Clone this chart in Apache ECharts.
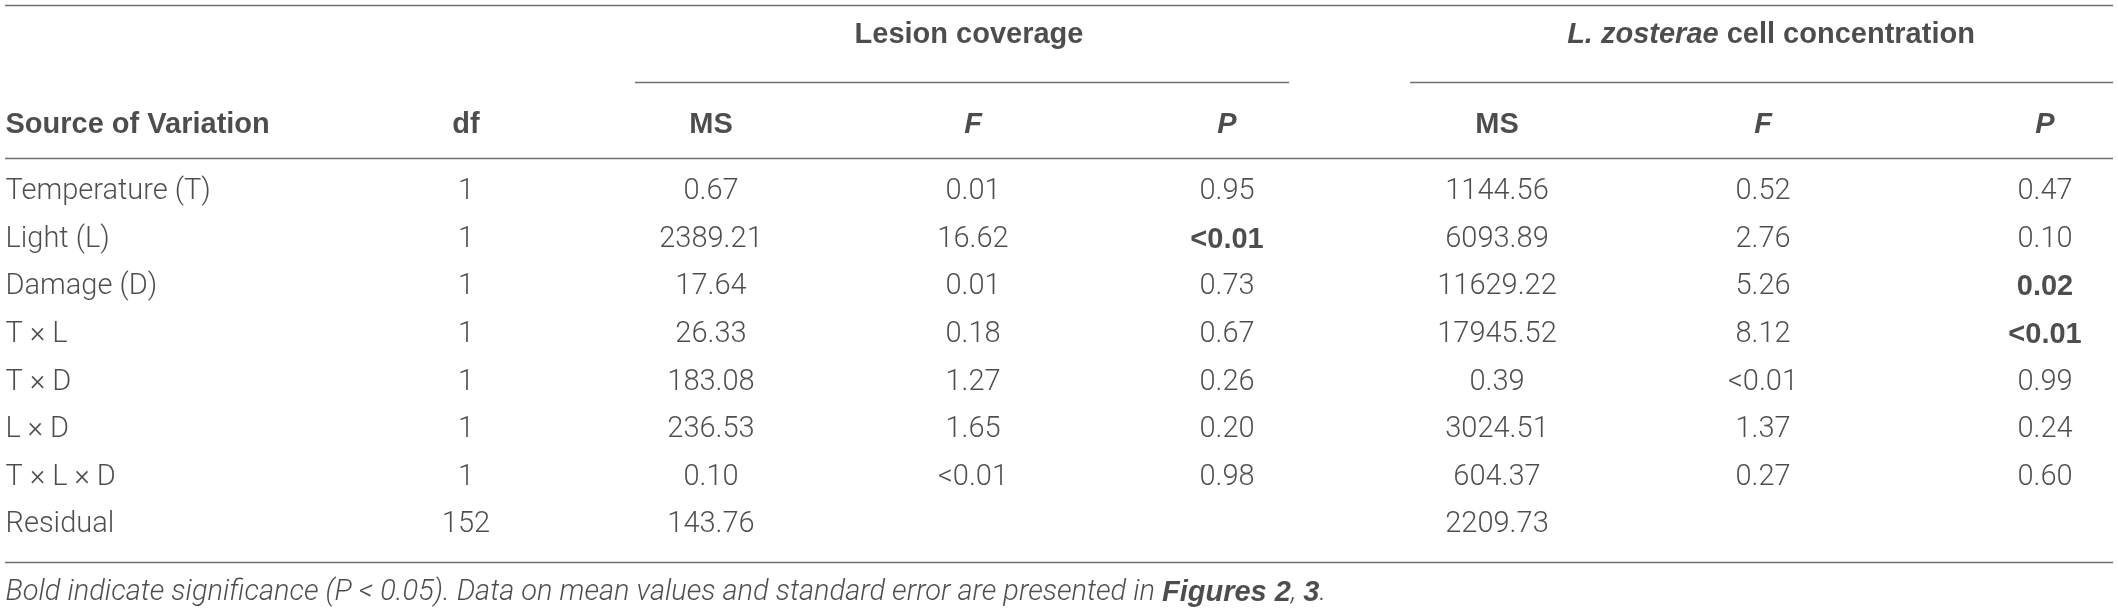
<!DOCTYPE html>
<html>
<head>
<meta charset="utf-8">
<script src="https://cdn.jsdelivr.net/npm/echarts@6/dist/echarts.min.js"></script>
<style>
    html, body { margin: 0; padding: 0; background: #fff; }
    #table_chart { width: 2118px; height: 609px; }
</style>
</head>
<body>
<div id="table_chart"></div>
<script>
// ANOVA 表格数据
var sources = ['Temperature (T)', 'Light (L)', 'Damage (D)', 'T \u00d7 L', 'T \u00d7 D', 'L \u00d7 D', 'T \u00d7 L \u00d7 D', 'Residual'];
var dfValues = ['1', '1', '1', '1', '1', '1', '1', '152'];
var lesionMS = ['0.67', '2389.21', '17.64', '26.33', '183.08', '236.53', '0.10', '143.76'];
var lesionF = ['0.01', '16.62', '0.01', '0.18', '1.27', '1.65', '<0.01', ''];
var lesionP = ['0.95', '<0.01', '0.73', '0.67', '0.26', '0.20', '0.98', ''];
var cellMS = ['1144.56', '6093.89', '11629.22', '17945.52', '0.39', '3024.51', '604.37', '2209.73'];
var cellF = ['0.52', '2.76', '5.26', '8.12', '<0.01', '1.37', '0.27', ''];
var cellP = ['0.47', '0.10', '0.02', '<0.01', '0.99', '0.24', '0.60', ''];
// 显著性 (加粗) : [行, 列]
var boldCells = [[1, 4], [2, 7], [3, 7]];
var headers = ['Source of Variation', 'df', 'MS', 'F', 'P', 'MS', 'F', 'P'];
var footnote = '{i|Bold indicate significance (P < 0.05). Data on mean values and standard error are presented in }{bi|Figures 2}{i|, }{bi|3}{i|.}';

// 版面 (坐标轴单位 = 像素)
var colX = [5, 466, 711, 973, 1227, 1497, 1763, 2045];
var firstRowY = 192, rowStep = 47.6, headerY = 125, groupY = 35, footY = 593;
var tableLeft = 5, tableRight = 2113;
var textColor = '#231f20';
var bodyFont = 'Roboto';
var boldFont = 'Liberation Sans';
var fontSize = 29;

var columns = [sources, dfValues, lesionMS, lesionF, lesionP, cellMS, cellF, cellP];

function isBold(r, c) {
    for (var k = 0; k < boldCells.length; k++) {
        if (boldCells[k][0] == r && boldCells[k][1] == c) return true;
    }
    return false;
}

// 表体
var cellData = [];
for (var c = 0; c < columns.length; c++) {
    for (var r = 0; r < columns[c].length; r++) {
        if (columns[c][r] === '') continue;
        var bold = isBold(r, c);
        cellData.push({
            value: [colX[c], firstRowY + r * rowStep],
            txt: columns[c][r],
            label: {
                position: c == 0 ? 'right' : 'inside',
                fontFamily: bold ? boldFont : bodyFont,
                fontWeight: bold ? 'bold' : 300
            }
        });
    }
}

// 表头
var headData = [];
for (var c = 0; c < headers.length; c++) {
    var italic = headers[c] == 'F' || headers[c] == 'P';
    headData.push({
        value: [colX[c], headerY],
        txt: headers[c],
        label: {
            position: c == 0 ? 'right' : 'inside',
            fontStyle: italic ? 'italic' : 'normal'
        }
    });
}
headData.push({ value: [(colX[2] + colX[4]) / 2, groupY], txt: 'Lesion coverage', label: { position: 'inside' } });
headData.push({ value: [(colX[5] + colX[7]) / 2, groupY], txt: '{bi|L. zosterae} cell concentration', label: { position: 'inside' } });

// 横线
function rule(x1, x2, y) {
    return [{ coord: [x1, y] }, { coord: [x2, y] }];
}
var rules = [
    rule(tableLeft, tableRight, 5),
    rule(635, 1289, 82.5),
    rule(1410, tableRight, 82.5),
    rule(tableLeft, tableRight, 158),
    rule(tableLeft, tableRight, 562)
];

var chart = echarts.init(document.getElementById('table_chart'));
var option = {
    backgroundColor: '#fff',
    animation: false,
    grid: { left: 0, right: 0, top: 0, bottom: 0 },
    xAxis: { type: 'value', min: 0, max: 2118, show: false },
    yAxis: { type: 'value', min: 0, max: 609, inverse: true, show: false },
    series: [{
        name: 'cells',
        type: 'scatter',
        symbolSize: 1,
        itemStyle: { color: 'rgba(0,0,0,0)' },
        silent: true,
        data: cellData,
        label: {
            show: true,
            distance: 0,
            color: textColor,
            fontSize: fontSize,
            formatter: function(p) { return p.data.txt; }
        },
        markLine: {
            silent: true,
            symbol: ['none', 'none'],
            label: { show: false },
            lineStyle: { color: '#707070', width: 1.3, type: 'solid' },
            data: rules
        }
    }, {
        name: 'headers',
        type: 'scatter',
        symbolSize: 1,
        itemStyle: { color: 'rgba(0,0,0,0)' },
        silent: true,
        data: headData,
        label: {
            show: true,
            distance: 0,
            color: textColor,
            fontSize: fontSize,
            fontFamily: boldFont,
            fontWeight: 'bold',
            formatter: function(p) { return p.data.txt; },
            rich: {
                bi: { fontSize: fontSize, fontFamily: boldFont, fontWeight: 'bold', fontStyle: 'italic', color: textColor }
            }
        }
    }, {
        name: 'footnote',
        type: 'scatter',
        symbolSize: 1,
        itemStyle: { color: 'rgba(0,0,0,0)' },
        silent: true,
        data: [{ value: [tableLeft, footY], txt: footnote }],
        label: {
            show: true,
            position: 'right',
            distance: 0,
            formatter: function(p) { return p.data.txt; },
            rich: {
                i: { fontSize: fontSize, fontFamily: bodyFont, fontWeight: 300, fontStyle: 'italic', color: textColor },
                bi: { fontSize: fontSize, fontFamily: boldFont, fontWeight: 'bold', fontStyle: 'italic', color: textColor }
            }
        }
    }]
};
chart.setOption(option);
</script>
</body>
</html>
